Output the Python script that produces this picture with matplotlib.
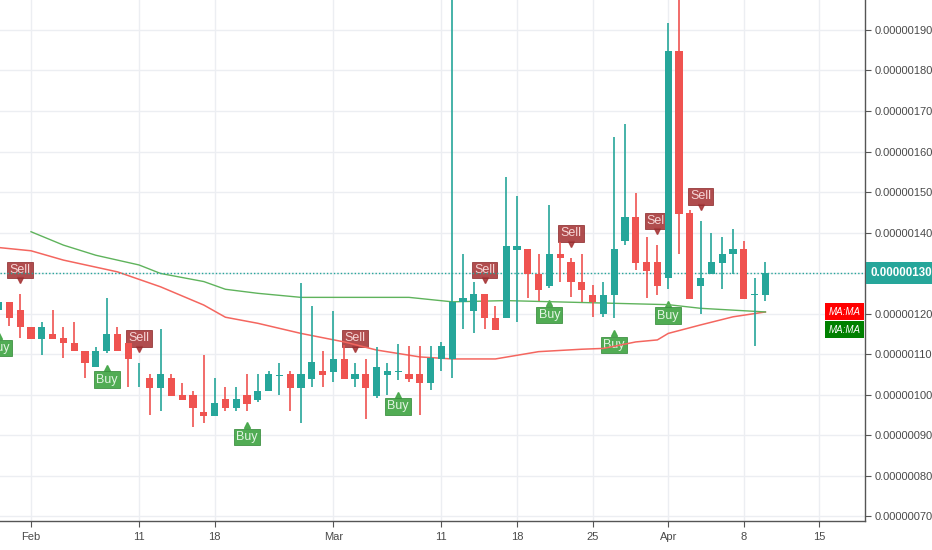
import matplotlib
matplotlib.use("Agg")
import matplotlib.pyplot as plt
import matplotlib.dates as mdates
import matplotlib.transforms as mtransforms
from matplotlib.patches import Rectangle
import pandas as pd

plt.rcParams["font.family"] = ["Liberation Sans", "DejaVu Sans"]

# daily candles, prices in units of 1e-8
dates = pd.date_range("2019-01-29", "2019-04-10", freq="D")
opens = [120.9, 122.9, 120.9, 116.7, 113.7, 114.9, 114.0, 112.7, 110.8, 106.7,
         110.8, 114.9, 112.7, 105.5, 104.0, 101.7, 104.0, 99.9, 99.9, 95.8,
         94.7, 98.8, 96.8, 99.9, 98.6, 100.9, 104.7, 105.0, 101.7, 103.8,
         105.8, 105.6, 108.9, 103.8, 105.0, 99.7, 104.8, 105.7, 105.0, 105.0,
         102.8, 108.9, 108.8, 122.9, 120.7, 124.8, 119.0, 118.8, 135.7, 135.9,
         129.8, 126.8, 134.6, 132.8, 127.7, 124.7, 119.9, 124.7, 137.9, 143.8,
         132.8, 132.8, 128.7, 184.8, 144.9, 126.9, 129.8, 132.6, 134.7, 135.9,
         124.6, 124.7]
highs = [123.5, 122.9, 124.8, 116.7, 117.9, 120.9, 116.7, 117.9, 110.8, 111.8,
         123.8, 116.7, 112.7, 107.9, 105.1, 116.2, 105.1, 102.9, 100.9, 109.8,
         104.0, 101.8, 101.8, 105.0, 105.0, 105.9, 107.9, 105.9, 127.6, 121.9,
         110.7, 120.7, 112.2, 107.9, 108.9, 111.8, 107.9, 112.6, 112.0, 112.0,
         112.0, 113.0, 200.0, 134.6, 127.7, 124.8, 121.9, 153.8, 149.0, 135.9,
         134.6, 146.8, 137.7, 133.8, 134.6, 127.0, 127.7, 163.7, 166.8, 149.7,
         138.8, 136.9, 191.8, 200.0, 145.6, 142.9, 139.8, 138.8, 140.8, 138.0,
         128.7, 132.8]
lows = [118.0, 116.9, 114.0, 113.7, 109.8, 113.7, 109.1, 110.7, 104.1, 106.7,
        110.2, 110.8, 101.9, 101.9, 94.9, 95.9, 99.7, 98.6, 92.0, 93.0,
        94.7, 96.0, 96.0, 96.0, 98.2, 100.9, 100.0, 96.0, 93.0, 101.9,
        101.9, 103.0, 103.8, 101.9, 94.1, 99.1, 100.0, 103.6, 103.0, 94.9,
        101.1, 105.9, 104.1, 116.1, 115.1, 116.1, 115.9, 118.8, 118.0, 123.9,
        123.1, 126.2, 127.9, 124.0, 122.9, 119.1, 119.1, 118.8, 136.9, 130.7,
        123.9, 124.7, 126.0, 134.7, 123.6, 120.0, 129.8, 126.0, 129.8, 123.6,
        112.0, 123.1]
closes = [122.9, 118.8, 116.7, 113.7, 116.7, 113.7, 112.7, 110.7, 107.9, 110.8,
          114.9, 110.8, 108.9, 105.6, 101.7, 105.0, 99.7, 98.6, 96.7, 94.7,
          98.0, 96.8, 98.8, 97.8, 100.9, 105.0, 104.8, 101.7, 105.0, 108.0,
          104.8, 108.9, 103.8, 105.0, 101.7, 106.9, 105.8, 105.8, 103.8, 102.8,
          109.1, 112.0, 122.8, 123.8, 124.8, 118.8, 115.9, 136.7, 136.7, 129.8,
          125.8, 134.6, 133.8, 127.7, 125.8, 122.8, 124.7, 135.9, 143.8, 132.6,
          130.5, 126.8, 184.8, 144.7, 123.6, 128.7, 132.8, 134.7, 135.9, 123.6,
          124.7, 130.0]

# moving averages
ma_red_dates = ["2019-01-29", "2019-02-01", "2019-02-04", "2019-02-09", "2019-02-13",
                "2019-02-17", "2019-02-19", "2019-02-22", "2019-02-26", "2019-03-02",
                "2019-03-05", "2019-03-09", "2019-03-12", "2019-03-16", "2019-03-20",
                "2019-03-24", "2019-03-26", "2019-03-29", "2019-03-31", "2019-04-01",
                "2019-04-04", "2019-04-07", "2019-04-10"]
ma_red = [136.3, 135.5, 133.2, 130.3, 126.6, 122.1, 119.1, 117.6, 115.1, 113.0,
          111.0, 109.3, 108.8, 108.8, 110.6, 111.2, 111.4, 113.0, 113.5, 115.1,
          117.2, 119.2, 120.4]
ma_green_dates = ["2019-02-01", "2019-02-04", "2019-02-07", "2019-02-11", "2019-02-13",
                  "2019-02-17", "2019-02-19", "2019-02-22", "2019-02-26", "2019-03-03",
                  "2019-03-08", "2019-03-12", "2019-03-17", "2019-03-23", "2019-03-29",
                  "2019-04-01", "2019-04-04", "2019-04-10"]
ma_green = [140.2, 136.9, 134.4, 132.0, 129.9, 127.9, 126.0, 125.0, 124.0, 124.0,
            124.0, 122.9, 123.2, 122.8, 122.4, 122.2, 121.3, 120.4]

sell_dates = ["2019-01-31", "2019-02-11", "2019-03-03", "2019-03-15",
              "2019-03-23", "2019-03-31", "2019-04-04"]
buy_dates = ["2019-01-29", "2019-02-08", "2019-02-21", "2019-03-07",
             "2019-03-21", "2019-03-27", "2019-04-01"]

yticks = [70, 80, 90, 100, 110, 120, 130, 140, 150, 160, 170, 180, 190]
xtick_dates = ["2019-02-01", "2019-02-11", "2019-02-18", "2019-03-01", "2019-03-11",
               "2019-03-18", "2019-03-25", "2019-04-01", "2019-04-08", "2019-04-15"]
xtick_labels = ["Feb", "11", "18", "Mar", "11", "18", "25", "Apr", "8", "15"]
last_price = 130.0

UP, DOWN = "#26a69a", "#ef5350"
S = 1e-8

fig = plt.figure(figsize=(9.32, 5.5), dpi=100)
ax = fig.add_axes([0, 29 / 550, 865 / 932, 521 / 550])

x = mdates.date2num(dates)
o = [v * S for v in opens]
h = [v * S for v in highs]
l = [v * S for v in lows]
c = [v * S for v in closes]
cols = [UP if cc >= oo else DOWN for oo, cc in zip(o, c)]

ax.vlines(x, l, h, colors=cols, linewidth=1.2, zorder=4)
bottoms = [min(a, b) for a, b in zip(o, c)]
heights = [max(abs(b - a), 0.12 * S) for a, b in zip(o, c)]
ax.bar(x, heights, bottom=bottoms, width=0.66, color=cols, zorder=5)

ax.plot(mdates.date2num(pd.to_datetime(ma_red_dates)), [v * S for v in ma_red],
        color="#f4665f", linewidth=1.1, zorder=3)
ax.plot(mdates.date2num(pd.to_datetime(ma_green_dates)), [v * S for v in ma_green],
        color="#5fb35c", linewidth=1.0, zorder=3)

ax.axhline(last_price * S, color=UP, linewidth=1, linestyle=(0, (1, 1.5)), zorder=3)

# buy / sell markers
idx = {d: i for i, d in enumerate(dates.strftime("%Y-%m-%d"))}
for d in sell_dates:
    i = idx[d]
    tri = mtransforms.offset_copy(ax.transData, fig=fig, x=0, y=10, units="points")
    ax.plot(x[i], h[i], marker="v", markersize=5, color="#a8393b", alpha=0.9,
            transform=tri, zorder=2, linestyle="none", clip_on=False)
    ax.annotate("Sell", xy=(x[i], h[i]), xytext=(0, 17.5), textcoords="offset points",
                ha="center", va="center", fontsize=9, color="#f6d6d6", zorder=2,
                annotation_clip=False,
                bbox=dict(boxstyle="square,pad=0.18", fc="#a8393b", ec="#8f2e30",
                          alpha=0.9, lw=0.6))
for d in buy_dates:
    i = idx[d]
    tri = mtransforms.offset_copy(ax.transData, fig=fig, x=0, y=-10.5, units="points")
    ax.plot(x[i], l[i], marker="^", markersize=5, color="#47a84b", alpha=0.95,
            transform=tri, zorder=2, linestyle="none", clip_on=False)
    ax.annotate("Buy", xy=(x[i], l[i]), xytext=(0, -19), textcoords="offset points",
                ha="center", va="center", fontsize=9, color="#e3f4e3", zorder=2,
                annotation_clip=False,
                bbox=dict(boxstyle="square,pad=0.18", fc="#47a84b", ec="#3a8e3e",
                          alpha=0.95, lw=0.6))

# axes styling
x0 = mdates.date2num(pd.Timestamp("2019-02-01"))
ax.set_xlim(x0 - 31 / 10.8, x0 + 834 / 10.8)
ax.set_ylim(68.8 * S, 197.4 * S)

ax.set_xticks(mdates.date2num(pd.to_datetime(xtick_dates)))
ax.set_xticklabels(xtick_labels)
ax.set_yticks([v * S for v in yticks])
# the 130 label sits under the last-price tag
ax.set_yticklabels(["" if v == last_price else "%.8f" % (v * S) for v in yticks])
ax.yaxis.tick_right()
ax.tick_params(axis="both", length=4, width=0.8, color="#555555",
               labelcolor="#4a4a4a", labelsize=8)
ax.tick_params(axis="y", pad=3)
ax.tick_params(axis="x", pad=4)

ax.grid(True, color="#eceef2", linewidth=1, zorder=0)
ax.set_axisbelow(True)
for side in ["top", "left"]:
    ax.spines[side].set_visible(False)
for side in ["right", "bottom"]:
    ax.spines[side].set_color("#555555")
    ax.spines[side].set_linewidth(1)

# last price tag on axis
ax.annotate("%.8f" % (last_price * S), xy=(1, last_price * S),
            xycoords=("axes fraction", "data"), xytext=(4, 0), textcoords="offset points",
            ha="left", va="center", fontsize=8.3, color="white", weight="bold",
            annotation_clip=False,
            bbox=dict(boxstyle="square,pad=0.42", fc=UP, ec="none"))

# MA:MA legend tags
for y0, col in [(0.3858, "#ff0000"), (0.3512, "#008000")]:
    ax.add_patch(Rectangle((0.9538, y0), 0.0452, 0.0326, transform=ax.transAxes,
                           facecolor=col, edgecolor="none", zorder=6, clip_on=False))
    ax.text(0.9764, y0 + 0.0163, "MA:MA", transform=ax.transAxes, ha="center",
            va="center", fontsize=7, color="white", style="italic", zorder=7)

fig.savefig("out.png", dpi=100)
plt.close(fig)
